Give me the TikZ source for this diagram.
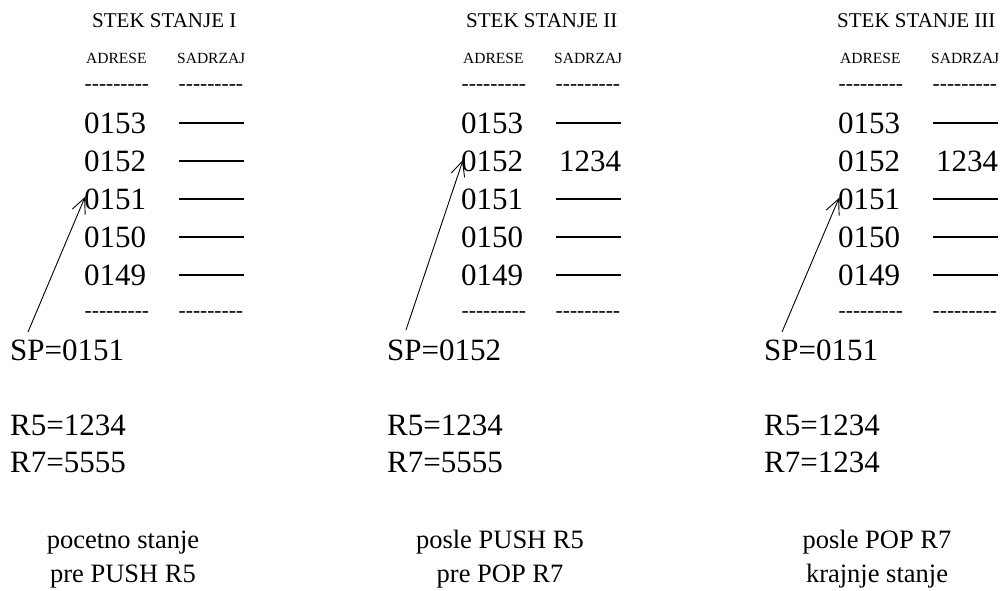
\documentclass[tikz,border=0pt]{standalone}
\usepackage{fontspec}
\setmainfont{Liberation Serif}
\newfontfamily\dashfont{Liberation Serif}
\usetikzlibrary{arrows.meta}
\begin{document}
\begin{tikzpicture}[x=1pt,y=-1pt,
  title/.style={anchor=base west,inner sep=0pt,font=\fontsize{21}{21}\selectfont},
  colhead/.style={anchor=base west,inner sep=0pt,font=\fontsize{15.5}{15.5}\selectfont},
  dashrow/.style={anchor=base west,inner sep=0pt,font=\dashfont\fontsize{21.5}{21.5}\selectfont},
  big/.style={anchor=base west,inner sep=0pt,font=\fontsize{31}{31}\selectfont},
  caption/.style={anchor=base,inner sep=0pt,font=\fontsize{26.5}{26.5}\selectfont},
  empty/.style={line width=1.7pt},
  sparrow/.style={-{Straight Barb[length=15pt,width=14pt,line width=0.9pt]},line width=0.9pt}]
\useasboundingbox (0,0) rectangle (1002,590);
% column I
\begin{scope}[shift={(0,0)}]
\end{scope}
\foreach \ox/\tt/\tx/\n in {0/I/92/1,377/II/466/2,754/III/837/3}{
  \node[title] (t\n) at (\tx,27) {STEK STANJE \tt};
  \node[colhead] (adr\n) at (86+\ox,63) {ADRESE};
  \node[colhead] (sad\n) at (177+\ox,63) {SADRZAJ};
  \node[dashrow] (da\n) at (84.5+\ox,90) {---------};
  \node[dashrow] (db\n) at (178.5+\ox,90) {---------};
  \node[big] (r153\n) at (84+\ox,133) {0153};
  \node[big] (r152\n) at (84+\ox,171) {0152};
  \node[big] (r151\n) at (84+\ox,209) {0151};
  \node[big] (r150\n) at (84+\ox,247) {0150};
  \node[big] (r149\n) at (84+\ox,285) {0149};
  \node[dashrow] (dc\n) at (84.5+\ox,317) {---------};
  \node[dashrow] (dd\n) at (178.5+\ox,317) {---------};
  \coordinate (e153\n) at (179+\ox,123);
  \coordinate (f153\n) at (244+\ox,123);
  \coordinate (e151\n) at (179+\ox,199);
  \coordinate (f151\n) at (244+\ox,199);
  \coordinate (e150\n) at (179+\ox,237);
  \coordinate (f150\n) at (244+\ox,237);
  \coordinate (e149\n) at (179+\ox,275);
  \coordinate (f149\n) at (244+\ox,275);
  \draw[empty] (e153\n) -- (f153\n);
  \draw[empty] (e151\n) -- (f151\n);
  \draw[empty] (e150\n) -- (f150\n);
  \draw[empty] (e149\n) -- (f149\n);
  \node[big] (r5\n) at (10+\ox,435) {R5=1234};
}
% contents of 0152
\coordinate (e1521) at (179,161);
\coordinate (f1521) at (244,161);
\draw[empty] (e1521) -- (f1521);
\node[big] (c1522) at (559,171) {1234};
\node[big] (c1523) at (936,171) {1234};
% SP and registers
\node[big] (sp1) at (10,360) {SP=0151};
\node[big] (sp2) at (387,360) {SP=0152};
\node[big] (sp3) at (764,360) {SP=0151};
\node[big] (r71) at (10,472) {R7=5555};
\node[big] (r72) at (387,472) {R7=5555};
\node[big] (r73) at (764,472) {R7=1234};
% arrows
\coordinate (s1) at (28,332);  \coordinate (p1) at (85,197);
\coordinate (s2) at (406,330); \coordinate (p2) at (463,160);
\coordinate (s3) at (782,332); \coordinate (p3) at (839,198);
\draw[sparrow] (s1) -- (p1);
\draw[sparrow] (s2) -- (p2);
\draw[sparrow] (s3) -- (p3);
% captions
\node[caption] (ca1) at (123,548) {pocetno stanje};
\node[caption] (cb1) at (123,582) {pre PUSH R5};
\node[caption] (ca2) at (500,548) {posle PUSH R5};
\node[caption] (cb2) at (500,582) {pre POP R7};
\node[caption] (ca3) at (877,548) {posle POP R7};
\node[caption] (cb3) at (877,582) {krajnje stanje};
\end{tikzpicture}
\end{document}
